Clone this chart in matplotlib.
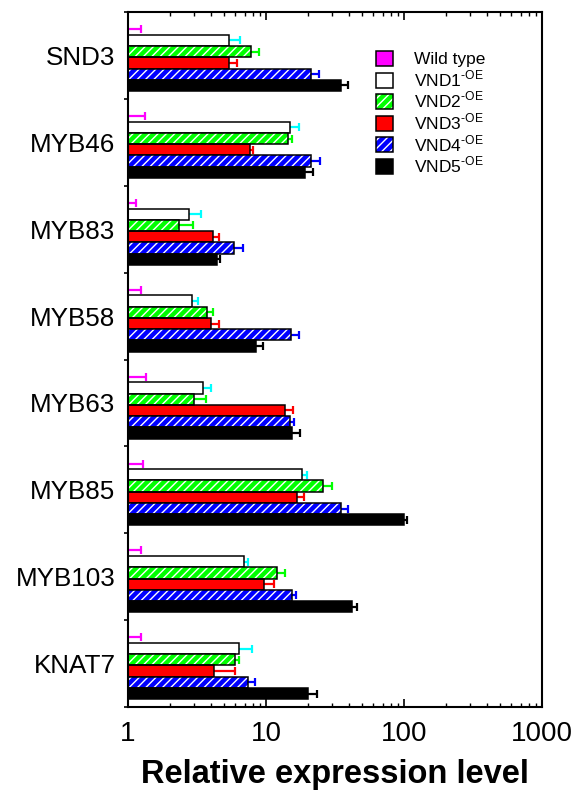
import matplotlib
matplotlib.use('Agg')
import matplotlib.pyplot as plt
from matplotlib.patches import Patch
from matplotlib.legend_handler import HandlerTuple
import numpy as np

plt.rcParams['font.family'] = ['Liberation Sans', 'DejaVu Sans']
plt.rcParams['mathtext.fontset'] = 'custom'
plt.rcParams['mathtext.rm'] = 'Liberation Sans'
plt.rcParams['hatch.linewidth'] = 1.0

genes = ['SND3', 'MYB46', 'MYB83', 'MYB58', 'MYB63', 'MYB85', 'MYB103', 'KNAT7']
series = ['Wild type', 'VND1', 'VND2', 'VND3', 'VND4', 'VND5']

wt = [1, 1, 1, 1, 1, 1, 1, 1]
wt_err = [0.24, 0.32, 0.14, 0.25, 0.36, 0.28, 0.25, 0.25]
vnd1 = [5.4, 15.0, 2.76, 2.92, 3.5, 18.2, 6.96, 6.33]
vnd1_err = [1.1, 2.25, 0.6, 0.3, 0.5, 1.7, 0.5, 1.6]
vnd2 = [7.8, 14.5, 2.33, 3.74, 3.0, 26.0, 12.1, 5.93]
vnd2_err = [1.1, 1.0, 0.62, 0.37, 0.66, 3.9, 1.7, 0.4]
vnd3 = [5.36, 7.6, 4.11, 4.0, 13.8, 16.9, 9.7, 4.23]
vnd3_err = [0.8, 0.5, 0.43, 0.57, 1.8, 2.0, 1.8, 1.76]
vnd4 = [21.1, 21.1, 5.82, 15.1, 14.95, 34.7, 15.5, 7.4]
vnd4_err = [3.0, 3.5, 1.0, 2.1, 1.05, 4.7, 1.0, 0.96]
vnd5 = [34.7, 19.3, 4.42, 8.45, 15.5, 99.5, 41.7, 20.1]
vnd5_err = [4.5, 2.5, 0.25, 1.05, 2.2, 5.5, 4.1, 3.2]

values = [wt, vnd1, vnd2, vnd3, vnd4, vnd5]
errors = [wt_err, vnd1_err, vnd2_err, vnd3_err, vnd4_err, vnd5_err]
face = ['#ff00ff', '#ffffff', '#00ff00', '#ff0000', '#0000ff', '#000000']
ecol = ['#ff00ff', '#00ffff', '#00ff00', '#ff0000', '#0000ff', '#000000']
hatched = [False, False, True, False, True, False]

fig = plt.figure(figsize=(5.79, 7.95), dpi=100)
ax = fig.add_axes([128/579, 1 - 707/795, 414/579, 695/795])

first = 0.198
step = 0.1295
h = 0.13
base = np.arange(len(genes))
handles = []
for j in range(len(series)):
    y = base + first + step * j
    v = np.array(values[j], dtype=float)
    e = np.array(errors[j], dtype=float)
    # symmetric error bars behind the bars, only the outer half shows
    ax.errorbar(v, y, xerr=e, fmt='none', ecolor=ecol[j], elinewidth=1.6,
                capsize=2.6, capthick=1.6, zorder=1)
    if hatched[j]:
        ax.barh(y, v - 1, left=1, height=h, color=face[j], edgecolor='white',
                hatch='////', linewidth=0, zorder=2)
        ax.barh(y, v - 1, left=1, height=h, fill=False, edgecolor='black',
                linewidth=1.1, zorder=3)
        hd = (Patch(facecolor=face[j], edgecolor='white', hatch='////', linewidth=0),
              Patch(fill=False, edgecolor='black', linewidth=1.1))
    else:
        ax.barh(y, v - 1, left=1, height=h, color=face[j], edgecolor='black',
                linewidth=1.1, zorder=2)
        hd = Patch(facecolor=face[j], edgecolor='black', linewidth=1.1)
    handles.append(hd)

ax.set_xscale('log')
ax.set_xlim(1, 1000)
ax.set_ylim(len(genes), 0)

ax.set_yticks(np.arange(len(genes) + 1))
ax.set_yticklabels([])
ax.set_yticks(base + 0.5, genes, minor=True)
ax.tick_params(axis='y', which='major', direction='out', length=3, width=1.2)
ax.tick_params(axis='y', which='minor', length=0, pad=9, labelsize=18.7)

ax.set_xticks([1, 10, 100, 1000], ['1', '10', '100', '1000'])
ax.tick_params(axis='x', which='both', direction='in', top=True, bottom=True,
               labelsize=20, pad=10)
ax.tick_params(axis='x', which='major', length=6, width=1.2)
ax.tick_params(axis='x', which='minor', length=3, width=1.0)

for s in ax.spines.values():
    s.set_linewidth(1.5)

ax.set_xlabel('Relative expression level', fontsize=23.5, fontweight='bold', labelpad=9)

labels = ['Wild type'] + [r'%s$^{\mathregular{\text{-OE}}}$' % s for s in series[1:]]
ax.legend(handles, labels, loc='upper left', bbox_to_anchor=(0.60, 0.944),
          frameon=False, fontsize=12.5, handlelength=0.95, handleheight=0.95,
          handletextpad=1.2, labelspacing=0.06, borderpad=0, borderaxespad=0,
          handler_map={tuple: HandlerTuple(ndivide=1)})

fig.savefig('out.png', dpi=100)
